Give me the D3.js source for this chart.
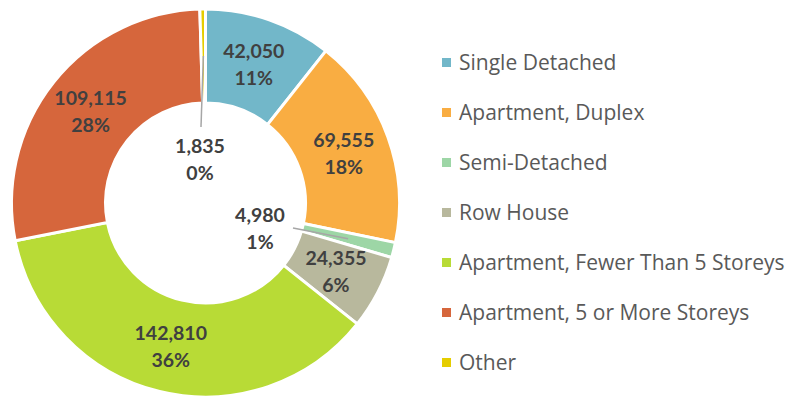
<!DOCTYPE html>
<html>
<head>
<meta charset="utf-8">
<script src="https://cdn.jsdelivr.net/npm/d3@7"></script>
<style>
  html, body { margin: 0; padding: 0; background: #fff; }
  svg { display: block; }
</style>
</head>
<body>
<svg id="chart" width="787" height="396"></svg>
<script>
// Dwelling types and counts
const categories = [
  "Single Detached",
  "Apartment, Duplex",
  "Semi-Detached",
  "Row House",
  "Apartment, Fewer Than 5 Storeys",
  "Apartment, 5 or More Storeys",
  "Other"
];
const values = [42050, 69555, 4980, 24355, 142810, 109115, 1835];
const colors = ["#72B7C9", "#F9AD42", "#9DD6A6", "#B8B89D", "#B8DB36", "#D6663C", "#E5CD00"];

const width = 787, height = 396;
const cx = 205.5, cy = 203;
const outerR = 194, innerR = 100, labelR = 147;

const svg = d3.select("#chart");
const total = d3.sum(values);
const data = categories.map((c, i) => ({ name: c, value: values[i], color: colors[i] }));

const pie = d3.pie().sort(null).value(d => d.value);
const arcs = pie(data);
const arc = d3.arc().innerRadius(innerR).outerRadius(outerR);
const labelArc = d3.arc().innerRadius(labelR).outerRadius(labelR);

const g = svg.append("g").attr("transform", `translate(${cx},${cy})`);

g.selectAll("path.slice")
  .data(arcs)
  .join("path")
  .attr("class", "slice")
  .attr("d", arc)
  .attr("fill", d => d.data.color)
  .attr("stroke", "#fff")
  .attr("stroke-width", 3)
  .attr("stroke-linejoin", "miter");

const fmt = d3.format(",");
const pct = v => Math.round(v / total * 100) + "%";

// Small slices get their labels pulled into the hole with a leader line
const moved = {
  "Semi-Detached": { dx: 54.5, dy: 25, lx: 87.5, ly: 25 },
  "Other": { dx: -5.5, dy: -44, lx: -4.5, ly: -76 }
};

arcs.forEach(a => {
  const [mx, my] = labelArc.centroid(a);
  const m = moved[a.data.name];
  const px = m ? m.dx : mx;
  const py = m ? m.dy : my;
  if (m) {
    g.append("line")
      .attr("x1", m.lx).attr("y1", m.ly)
      .attr("x2", mx).attr("y2", my)
      .attr("stroke", "#A6A6A6")
      .attr("stroke-width", 1.5);
  }
  const t = g.append("text")
    .attr("text-anchor", "middle")
    .attr("font-family", "Lato, 'Open Sans', sans-serif")
    .attr("font-weight", "bold")
    .attr("font-size", 19.5)
    .attr("fill", "#404040");
  t.append("tspan").attr("x", px).attr("y", py - 6).text(fmt(a.data.value));
  t.append("tspan").attr("x", px).attr("y", py + 21).text(pct(a.data.value));
});

// Legend
const legend = svg.append("g").attr("transform", "translate(442,62.5)");
const rowH = 50;
const items = legend.selectAll("g.item")
  .data(data)
  .join("g")
  .attr("class", "item")
  .attr("transform", (d, i) => `translate(0,${i * rowH})`);
items.append("rect")
  .attr("x", 0).attr("y", -4.5)
  .attr("width", 9).attr("height", 9)
  .attr("fill", d => d.color);
items.append("text")
  .attr("x", 17).attr("y", 0)
  .attr("dy", "0.35em")
  .attr("font-family", "'Open Sans', Lato, sans-serif")
  .attr("font-size", 21)
  .attr("fill", "#595959")
  .text(d => d.name);
</script>
</body>
</html>
